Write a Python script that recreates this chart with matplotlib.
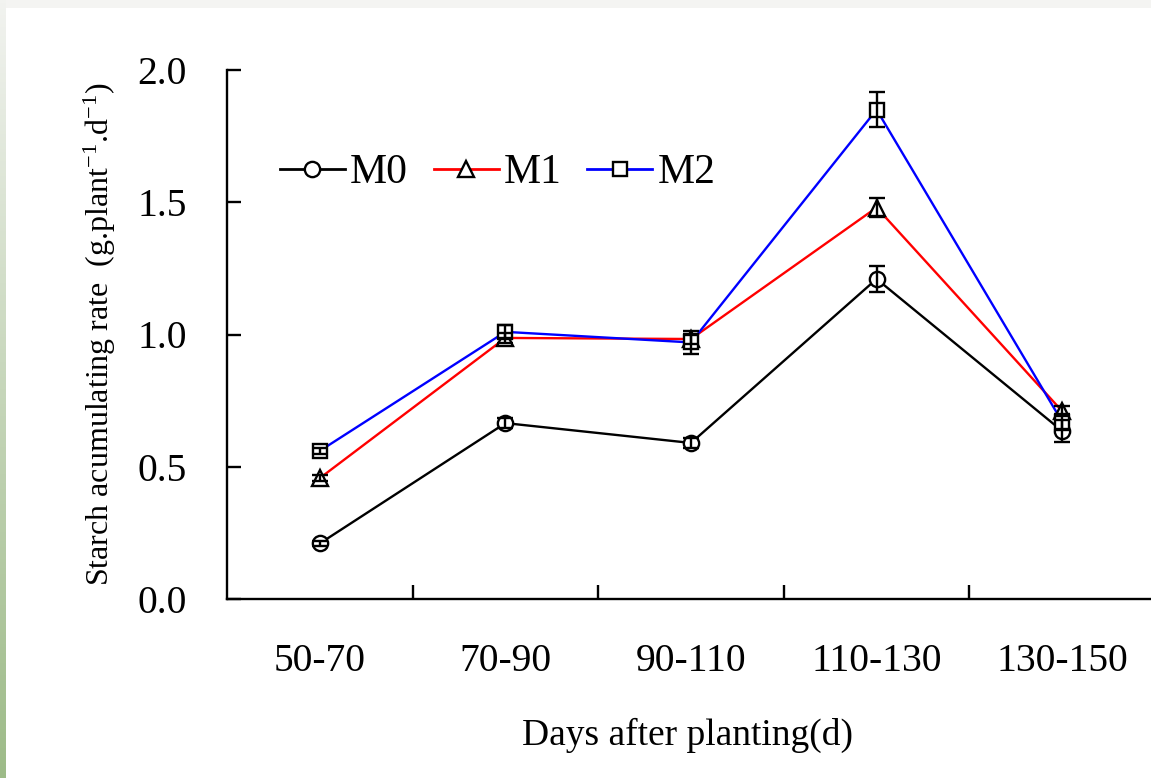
"""
Starch accumulating rate by growth stage (M0 / M1 / M2).
"""
import numpy as np
import matplotlib
matplotlib.use("Agg")
import matplotlib.pyplot as plt

plt.rcParams["font.family"] = ["Liberation Serif", "DejaVu Serif"]
plt.rcParams["mathtext.fontset"] = "custom"
plt.rcParams["mathtext.rm"] = "Liberation Serif"
plt.rcParams["mathtext.default"] = "regular"

# --- data ---
stages = ["50-70", "70-90", "90-110", "110-130", "130-150"]
series = ["M0", "M1", "M2"]
m0 = [0.21, 0.665, 0.59, 1.21, 0.635]
m1 = [0.457, 0.987, 0.983, 1.48, 0.71]
m2 = [0.56, 1.01, 0.97, 1.85, 0.67]
m0_err = [0.01, 0.02, 0.02, 0.05, 0.04]
m1_err = [0.01, 0.02, 0.02, 0.035, 0.02]
m2_err = [0.01, 0.025, 0.045, 0.065, 0.03]

styles = {
    "M0": dict(color="black", marker="o", markersize=11),
    "M1": dict(color="red", marker="^", markersize=12),
    "M2": dict(color="blue", marker="s", markersize=10),
}

W, H = 1151, 778
fig = plt.figure(figsize=(W / 100, H / 100), dpi=100)

# page background: grey strip on top, green gradient strip on the left
top = fig.add_axes([0, 1 - 8 / H, 1, 8 / H])
top.set_axis_off()
top.add_patch(plt.Rectangle((0, 0), 1, 1, color="#f4f4f2", transform=top.transAxes))
side = fig.add_axes([0, 0, 6 / W, 1])
grad = np.linspace(0, 1, 256).reshape(-1, 1)
cmap = matplotlib.colors.LinearSegmentedColormap.from_list(
    "strip", ["#f2f3f0", "#c6d6ba", "#9dbb88"])
side.imshow(grad, aspect="auto", cmap=cmap, extent=[0, 1, 1, 0])
side.set_axis_off()

ax = fig.add_axes([227 / W, 1 - 599 / H, 928 / W, 529 / H])

x = np.arange(len(stages)) + 0.5
for name, vals, errs in zip(series, [m0, m1, m2], [m0_err, m1_err, m2_err]):
    st = styles[name]
    ax.plot(x, vals, color=st["color"], linewidth=1.7, zorder=2)
    ax.plot(x, vals, linestyle="none", marker=st["marker"],
            markersize=st["markersize"], markerfacecolor="white",
            markeredgecolor="black", markeredgewidth=1.7, zorder=3)
    ax.errorbar(x, vals, yerr=errs, fmt="none", ecolor="black",
                elinewidth=1.7, capsize=6, capthick=1.7, zorder=4)

# legend proxies (line + open marker)
handles = []
for name in series:
    st = styles[name]
    h, = ax.plot([], [], color=st["color"], linewidth=2, marker=st["marker"],
                 markersize=st["markersize"], markerfacecolor="white",
                 markeredgecolor="black", markeredgewidth=1.7)
    handles.append(h)
ax.legend(handles, series, loc="center left", bbox_to_anchor=(0.057, 0.805),
          ncol=3, frameon=False, fontsize=30, handlelength=1.56,
          handletextpad=0.12, columnspacing=0.62, borderpad=0, borderaxespad=0)

ax.set_xlim(0, len(stages))
ax.set_ylim(0, 2.0)
ax.set_yticks([0, 0.5, 1.0, 1.5, 2.0])
ax.set_yticklabels(["0.0", "0.5", "1.0", "1.5", "2.0"])
ax.set_xticks([1, 2, 3, 4])
ax.set_xticklabels([])
ax.set_xticks(x, stages, minor=True)
ax.tick_params(axis="y", direction="in", length=10, width=1.7,
               labelsize=28.5, pad=29)
ax.tick_params(axis="x", which="major", direction="in", length=10, width=1.7)
ax.tick_params(axis="x", which="minor", length=0, labelsize=28.5, pad=32)

for side_name in ["top", "right"]:
    ax.spines[side_name].set_visible(False)
for side_name in ["left", "bottom"]:
    ax.spines[side_name].set_linewidth(1.7)

ax.set_ylabel("Starch acumulating rate  (g.plant$^{-1}$.d$^{-1}$)", fontsize=23)
ax.yaxis.set_label_coords(-0.117, 0.5)
ax.set_xlabel("Days after planting(d)", fontsize=27)
ax.xaxis.set_label_coords(0.496, -0.225)

fig.savefig("out.png", dpi=100)
